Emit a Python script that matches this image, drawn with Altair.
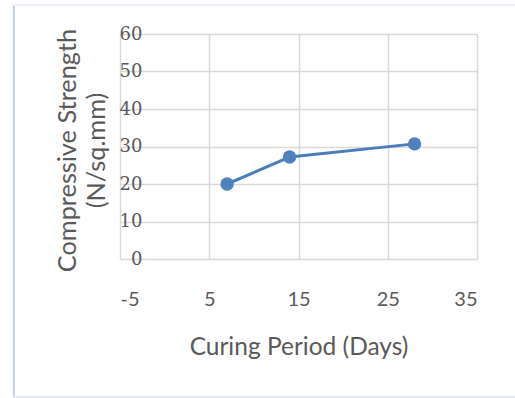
import altair as alt
import pandas as pd

# Curing period (days) and measured compressive strength (N/sq.mm)
days = [7, 14, 28]
strength = [20.0, 27.2, 30.7]

x_ticks = [-5, 5, 15, 25, 35]
y_ticks = [0, 10, 20, 30, 40, 50, 60]

df = pd.DataFrame({"days": days, "strength": strength})

GRID = "#d9d9d9"
TEXT = "#595959"
BLUE = "#4a7ebb"

x_enc = alt.X(
    "days:Q",
    scale=alt.Scale(domain=[-5, 35], nice=False, zero=False),
    axis=alt.Axis(
        values=x_ticks,
        labelExpr="'' + datum.value",
        title="Curing Period (Days)",
        titleFont="Lato",
        titleFontSize=24.5,
        titleFontWeight="normal",
        titleColor=TEXT,
        titlePadding=26,
        labelFont="Lato",
        labelFontSize=20,
        labelColor=TEXT,
        labelPadding=30,
        labelOverlap=False,
        ticks=False,
        domain=False,
        grid=True,
        gridColor=GRID,
        gridWidth=1.5,
    ),
)

y_enc = alt.Y(
    "strength:Q",
    scale=alt.Scale(domain=[0, 60], nice=False),
    axis=alt.Axis(
        values=y_ticks,
        tickCount=7,
        title=["Compressive Strength", "(N/sq.mm)"],
        titleFont="Lato",
        titleFontSize=25.3,
        titleFontWeight="normal",
        titleColor=TEXT,
        titleX=-53,
        titleY=116,
        titleAlign="center",
        titleBaseline="middle",
        titleLineHeight=29,
        labelFont="DejaVu Serif",
        labelFontSize=18,
        labelColor=TEXT,
        labelAlign="right",
        labelBaseline="middle",
        labelPadding=-22,
        labelOverlap=False,
        ticks=False,
        domain=False,
        grid=True,
        gridColor=GRID,
        gridWidth=1.5,
    ),
)

line = alt.Chart(df).mark_line(color=BLUE, strokeWidth=3).encode(x=x_enc, y=y_enc)
points = alt.Chart(df).mark_point(
    filled=True, color="#4f81bd", size=180, opacity=1
).encode(x=x_enc, y=y_enc)

# light frame around the chart object
frame_left = alt.Chart(df).mark_rule(color="#c5d3e8", strokeWidth=2).encode(
    x=alt.value(-106), y=alt.value(-29), y2=alt.value(363)
)
frame_top = alt.Chart(df).mark_rule(color="#edf1f7", strokeWidth=1.5).encode(
    x=alt.value(-106), x2=alt.value(400), y=alt.value(-29)
)
frame_bottom = alt.Chart(df).mark_rule(color="#e6ebf3", strokeWidth=1.5).encode(
    x=alt.value(-106), x2=alt.value(400), y=alt.value(363)
)

chart = (
    alt.layer(line, points, frame_left, frame_top, frame_bottom)
    .properties(
        width=357,
        height=225,
        autosize=alt.AutoSizeParams(type="none"),
        padding={"left": 120, "top": 34, "right": 38, "bottom": 139},
        background="white",
    )
    .configure_view(stroke=None)
)

chart.save("out.html", embed_options={"renderer": "svg", "actions": False})
